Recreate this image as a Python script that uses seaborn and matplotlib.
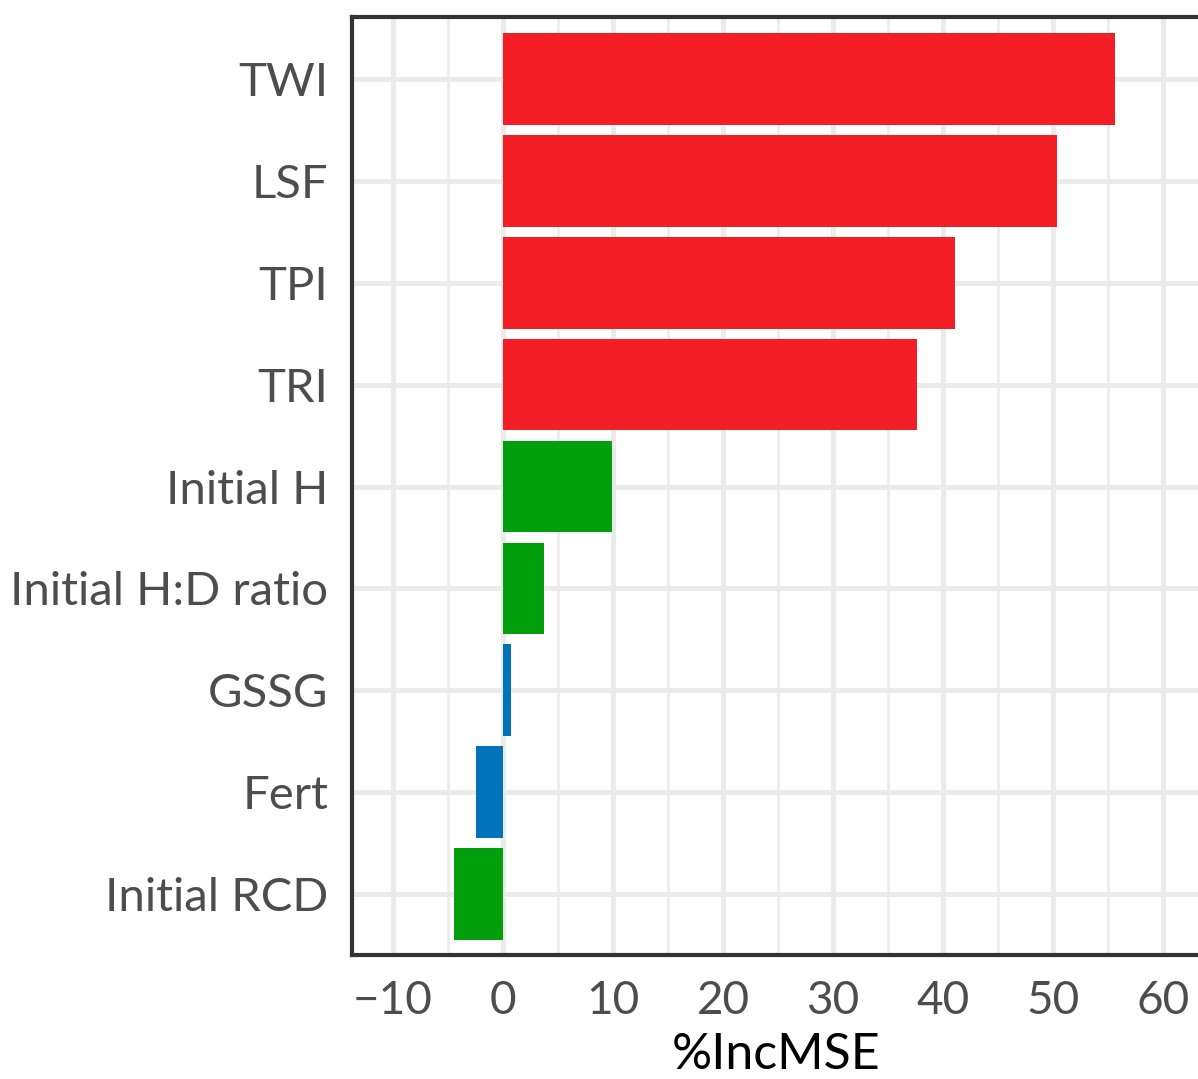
import matplotlib
matplotlib.use("Agg")
import matplotlib.pyplot as plt
import seaborn as sns
import pandas as pd
from matplotlib.ticker import MultipleLocator

variables = ["TWI", "LSF", "TPI", "TRI", "Initial H", "Initial H:D ratio",
             "GSSG", "Fert", "Initial RCD"]
inc_mse = [55.6, 50.4, 41.1, 37.6, 9.9, 3.7, 0.7, -2.5, -4.5]
groups = ["topo", "topo", "topo", "topo", "tree", "tree", "site", "site", "tree"]
palette = {"topo": "#F41F26", "tree": "#009F0B", "site": "#0073BA"}

df = pd.DataFrame({"var": variables, "val": inc_mse, "grp": groups})

sns.set_theme(style="white")
plt.rcParams['font.family'] = ['Lato', 'DejaVu Sans']

W, H = 1198, 1079
fig = plt.figure(figsize=(W / 100, H / 100), dpi=100)
ax = fig.add_axes([352 / W, (H - 955) / H, (1200 - 352) / W, (955 - 17) / H])

ax.set_axisbelow(True)
sns.barplot(data=df, x="val", y="var", hue="grp", palette=palette, dodge=False,
            width=0.9, order=variables, orient="h", ax=ax, legend=False,
            saturation=1, linewidth=0)

ax.set_xlim(-13.73, (1200 - 503) / 11)
ax.set_ylim(8.6, -0.61)
ax.xaxis.set_major_locator(MultipleLocator(10))
ax.xaxis.set_minor_locator(MultipleLocator(5))
ax.grid(True, which="major", axis="both", color="#EBEBEB", linewidth=3.6)
ax.grid(True, which="minor", axis="x", color="#EBEBEB", linewidth=1.8)
ax.tick_params(axis="x", which="minor", length=0)

for side in ["left", "bottom", "top"]:
    ax.spines[side].set_visible(True)
    ax.spines[side].set_color("#333333")
    ax.spines[side].set_linewidth(3.0)
ax.spines["right"].set_visible(False)

ax.tick_params(axis="both", which="major", length=9, width=3.0, color="#333333",
               labelcolor="#4D4D4D", direction="out")
ax.tick_params(axis="x", labelsize=33, pad=9)
ax.tick_params(axis="y", labelsize=34, pad=8)
ax.set_xticklabels([f"{int(t)}".replace("-", "\u2212") for t in ax.get_xticks()])

ax.set_ylabel("")
ax.set_xlabel("%IncMSE", fontsize=36, color="black", labelpad=7)

fig.savefig("out.png", dpi=100)
